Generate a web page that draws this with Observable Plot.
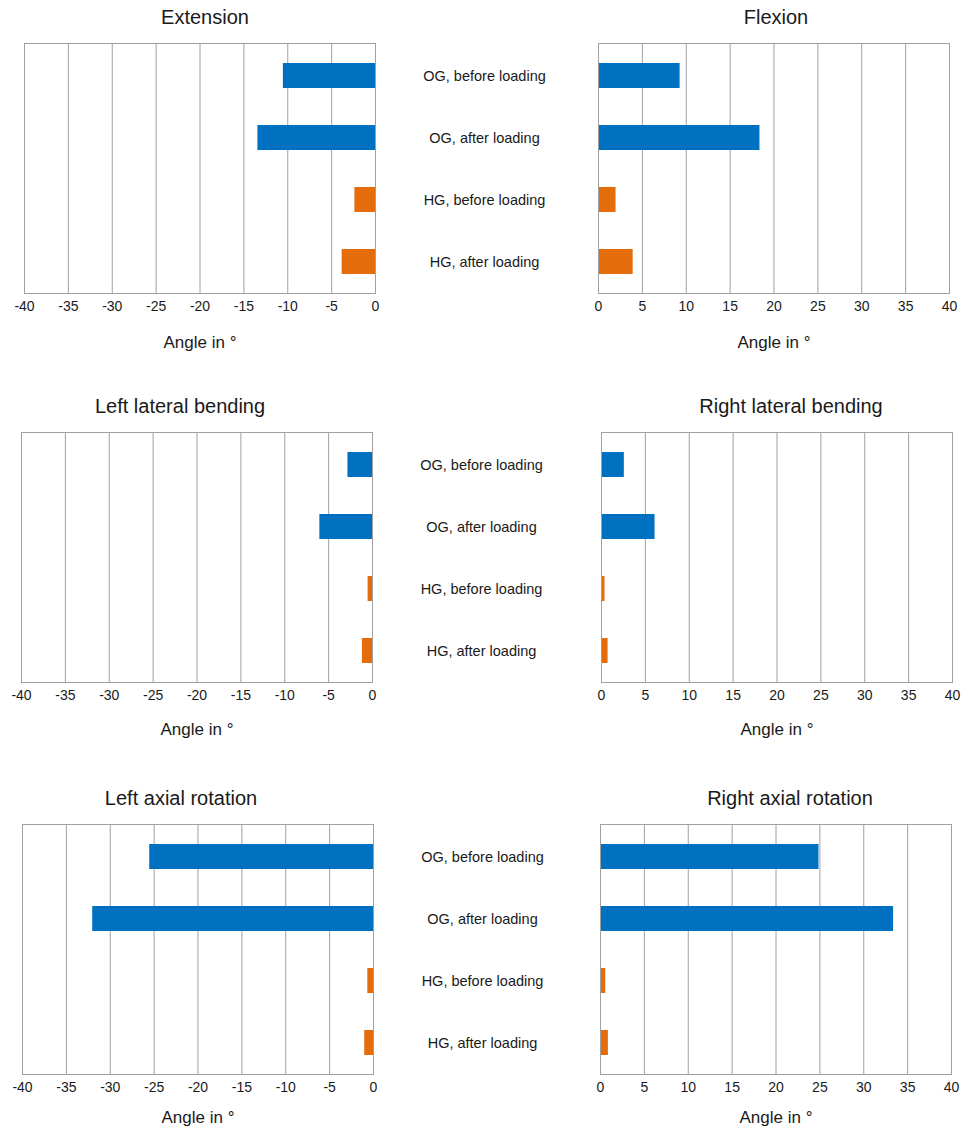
<!DOCTYPE html>
<html>
<head>
<meta charset="utf-8">
<script src="https://cdn.jsdelivr.net/npm/d3@7"></script>
<script src="https://cdn.jsdelivr.net/npm/@observablehq/plot@0.6"></script>
<style>
  html, body { margin: 0; padding: 0; background: #fff; overflow: hidden; }
  #chart { position: relative; width: 970px; height: 1130px; }
  .panel { position: absolute; }
</style>
</head>
<body>
<div id="chart"></div>
<script>
// ---- data ----
const groups = ["OG, before loading", "OG, after loading", "HG, before loading", "HG, after loading"];
const cohorts = ["OG", "OG", "HG", "HG"];
const leftTicks = [-40, -35, -30, -25, -20, -15, -10, -5, 0];
const rightTicks = [0, 5, 10, 15, 20, 25, 30, 35, 40];
const axisLabel = "Angle in °";

const extension = [-10.5, -13.4, -2.35, -3.8];
const flexion = [9.3, 18.4, 2.0, 3.95];
const leftLateralBending = [-2.8, -6.0, -0.5, -1.15];
const rightLateralBending = [2.6, 6.1, 0.4, 0.75];
const leftAxialRotation = [-25.5, -32.0, -0.65, -1.0];
const rightAxialRotation = [24.9, 33.4, 0.6, 0.9];

// ---- style ----
const blue = "#0070C0";
const orange = "#E46C0A";
const gridColor = "#a0a0a0";
const textColor = "#1a1a1a";
const font = "'Liberation Sans', Arial, Helvetica, sans-serif";

const panels = [
  {title: "Extension", values: extension, side: "left", left: 0, top: 0, ml: 24, titleDx: 5, labelDy: 49},
  {title: "Flexion", values: flexion, side: "right", left: 560, top: 0, ml: 38, titleDx: 2, labelDy: 49},
  {title: "Left lateral bending", values: leftLateralBending, side: "left", left: 0, top: 389, ml: 21, titleDx: -17, labelDy: 47},
  {title: "Right lateral bending", values: rightLateralBending, side: "right", left: 560, top: 389, ml: 41, titleDx: 14, labelDy: 47},
  {title: "Left axial rotation", values: leftAxialRotation, side: "left", left: 0, top: 781, ml: 22, titleDx: -17, labelDy: 43},
  {title: "Right axial rotation", values: rightAxialRotation, side: "right", left: 560, top: 781, ml: 40, titleDx: 14, labelDy: 43}
];

const frameW = 351, frameH = 250, mt = 43, mb = 56;
const container = document.getElementById("chart");

for (const p of panels) {
  const isLeft = p.side === "left";
  const ticks = isLeft ? leftTicks : rightTicks;
  const width = isLeft ? 560 : 410;
  const data = groups.map((g, i) => ({group: g, cohort: cohorts[i], value: p.values[i]}));
  const marks = [
    Plot.gridX(ticks, {stroke: gridColor, strokeOpacity: 1, strokeWidth: 1}),
    Plot.barX(data, {x: "value", y: "group", fill: "cohort"}),
    Plot.frame({stroke: gridColor, strokeWidth: 1}),
    Plot.axisX(ticks, {tickSize: 0, tickPadding: 8, fontSize: 14, fill: textColor, tickFormat: d => String(d), label: null}),
    Plot.text([p.title], {frameAnchor: "top", dy: -26, dx: p.titleDx, fontSize: 20, fill: textColor, lineAnchor: "middle"}),
    Plot.text([axisLabel], {frameAnchor: "bottom", dy: p.labelDy, fontSize: 17, fill: textColor, lineAnchor: "middle"})
  ];
  if (isLeft) {
    marks.push(Plot.text(groups, {y: d => d, frameAnchor: "right", dx: 109, textAnchor: "middle", fontSize: 14.5, fill: textColor}));
  }
  const chart = Plot.plot({
    width,
    height: mt + frameH + mb,
    marginTop: mt,
    marginBottom: mb,
    marginLeft: p.ml,
    marginRight: width - p.ml - frameW,
    style: {fontFamily: font, background: "transparent", overflow: "visible"},
    x: {domain: isLeft ? [-40, 0] : [0, 40], label: null},
    y: {domain: groups, paddingInner: 0.6, paddingOuter: 0.3, axis: null},
    color: {domain: ["OG", "HG"], range: [blue, orange]},
    marks
  });
  const div = document.createElement("div");
  div.className = "panel";
  div.style.left = p.left + "px";
  div.style.top = p.top + "px";
  div.appendChild(chart);
  container.appendChild(div);
}
</script>
</body>
</html>
